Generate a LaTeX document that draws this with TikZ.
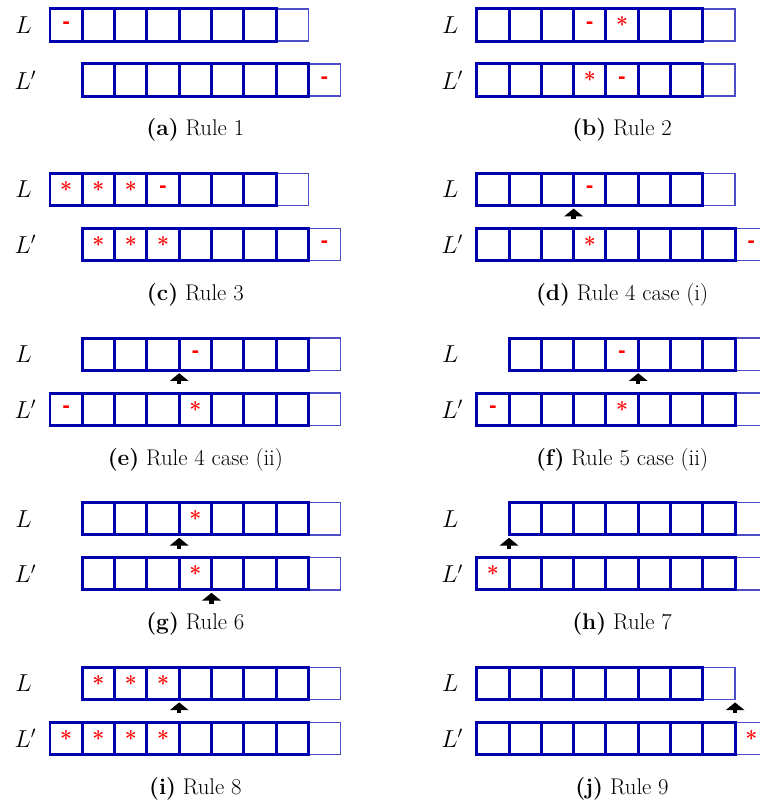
\documentclass[tikz,border=0pt]{standalone}
\usepackage{fontspec}
\newfontfamily\minusfont{DejaVu Sans}
\usetikzlibrary{arrows.meta,calc}
\definecolor{cellcol}{RGB}{0,0,175}
\definecolor{symcol}{RGB}{255,0,0}

% one list: name, left x, centre y, number of full cells (the tail cell comes after them)
\newcommand{\cellrow}[4]{%
  \node[tailcell] (#1-#4) at (#2+#4+0.5,#3) {};
  \pgfmathtruncatemacro{\lastcell}{#4-1}
  \foreach \i in {0,...,\lastcell}
    \node[cell] (#1-\i) at (#2+\i+0.5,#3) {};
}

\begin{document}
\begin{tikzpicture}[
  x=0.8cm, y=0.8cm,
  cell/.style={draw=cellcol, line width=2.1pt, minimum size=0.8cm,
               inner sep=0pt, outer sep=0pt},
  tailcell/.style={cell, draw=cellcol!70, line width=1pt},
  minussym/.style={text=symcol, font=\fontsize{13}{16}\selectfont\minusfont\bfseries,
                   inner sep=0pt},
  starsym/.style={text=symcol, font=\fontsize{15}{18}\selectfont\bfseries,
                  inner sep=0pt},
  lbl/.style={font=\LARGE},
  captext/.style={font=\fontsize{16}{19}\selectfont},
  uparr/.style={-{Triangle[width=13pt,length=5.5pt]}, line width=3pt,
                shorten >=2pt}
]
\useasboundingbox (0,0) rectangle (23.529,-24.892);
\clip (0,0) rectangle (23.529,-24.892);

%% (a) Rule 1
\node[lbl] (aLlab)  at (0.728,-0.774) {$L$};
\node[lbl] (aLplab) at (0.790,-2.477) {$L'$};
\cellrow{aL}{1.548}{-0.774}{7}
\cellrow{aLp}{2.548}{-2.477}{7}
\node[minussym] at (aL-0) {-};
\node[minussym] at (aLp-7) {-};
\node[captext] (capa) at (6.048,-4.034) {\textbf{(a)} Rule 1};

%% (b) Rule 2
\node[lbl] (bLlab)  at (13.939,-0.774) {$L$};
\node[lbl] (bLplab) at (14.001,-2.477) {$L'$};
\cellrow{bL}{14.759}{-0.774}{7}
\cellrow{bLp}{14.759}{-2.477}{7}
\node[minussym] at (bL-3) {-};
\node[starsym]  at (bL-4) {*};
\node[starsym]  at (bLp-3) {*};
\node[minussym] at (bLp-4) {-};
\node[captext] (capb) at (19.259,-4.034) {\textbf{(b)} Rule 2};

%% (c) Rule 3
\node[lbl] (cLlab)  at (0.728,-5.870) {$L$};
\node[lbl] (cLplab) at (0.790,-7.573) {$L'$};
\cellrow{cL}{1.548}{-5.870}{7}
\cellrow{cLp}{2.548}{-7.573}{7}
\foreach \i in {0,1,2} {
  \node[starsym] at (cL-\i) {*};
  \node[starsym] at (cLp-\i) {*};
}
\node[minussym] at (cL-3) {-};
\node[minussym] at (cLp-7) {-};
\node[captext] (capc) at (6.048,-9.130) {\textbf{(c)} Rule 3};

%% (d) Rule 4 case (i)
\node[lbl] (dLlab)  at (13.939,-5.870) {$L$};
\node[lbl] (dLplab) at (14.001,-7.573) {$L'$};
\cellrow{dL}{14.759}{-5.870}{7}
\cellrow{dLp}{14.759}{-7.573}{8}
\node[minussym] at (dL-3) {-};
\node[starsym]  at (dLp-3) {*};
\node[minussym] at (dLp-8) {-};
\coordinate (dfoot) at ($(dL-3.south west)+(0,-0.42)$);
\draw[uparr] (dfoot) -- (dL-3.south west);
\node[captext] (capd) at (19.259,-9.130) {\textbf{(d)} Rule 4 case (i)};

%% (e) Rule 4 case (ii)
\node[lbl] (eLlab)  at (0.728,-10.966) {$L$};
\node[lbl] (eLplab) at (0.790,-12.669) {$L'$};
\cellrow{eL}{2.548}{-10.966}{7}
\cellrow{eLp}{1.548}{-12.669}{8}
\node[minussym] at (eL-3) {-};
\node[minussym] at (eLp-0) {-};
\node[starsym]  at (eLp-4) {*};
\coordinate (efoot) at ($(eL-3.south west)+(0,-0.42)$);
\draw[uparr] (efoot) -- (eL-3.south west);
\node[captext] (cape) at (6.048,-14.226) {\textbf{(e)} Rule 4 case (ii)};

%% (f) Rule 5 case (ii)
\node[lbl] (fLlab)  at (13.939,-10.966) {$L$};
\node[lbl] (fLplab) at (14.001,-12.669) {$L'$};
\cellrow{fL}{15.759}{-10.966}{7}
\cellrow{fLp}{14.759}{-12.669}{8}
\node[minussym] at (fL-3) {-};
\node[minussym] at (fLp-0) {-};
\node[starsym]  at (fLp-4) {*};
\coordinate (ffoot) at ($(fL-3.south east)+(0,-0.42)$);
\draw[uparr] (ffoot) -- (fL-3.south east);
\node[captext] (capf) at (19.259,-14.226) {\textbf{(f)} Rule 5 case (ii)};

%% (g) Rule 6
\node[lbl] (gLlab)  at (0.728,-16.062) {$L$};
\node[lbl] (gLplab) at (0.790,-17.765) {$L'$};
\cellrow{gL}{2.548}{-16.062}{7}
\cellrow{gLp}{2.548}{-17.765}{7}
\node[starsym] at (gL-3) {*};
\node[starsym] at (gLp-3) {*};
\coordinate (gfoot)  at ($(gL-3.south west)+(0,-0.42)$);
\coordinate (gpfoot) at ($(gLp-3.south east)+(0,-0.42)$);
\draw[uparr] (gfoot) -- (gL-3.south west);
\draw[uparr] (gpfoot) -- (gLp-3.south east);
\node[captext] (capg) at (6.048,-19.322) {\textbf{(g)} Rule 6};

%% (h) Rule 7
\node[lbl] (hLlab)  at (13.939,-16.062) {$L$};
\node[lbl] (hLplab) at (14.001,-17.765) {$L'$};
\cellrow{hL}{15.759}{-16.062}{7}
\cellrow{hLp}{14.759}{-17.765}{8}
\node[starsym] at (hLp-0) {*};
\coordinate (hfoot) at ($(hL-0.south west)+(0,-0.42)$);
\draw[uparr] (hfoot) -- (hL-0.south west);
\node[captext] (caph) at (19.259,-19.322) {\textbf{(h)} Rule 7};

%% (i) Rule 8
\node[lbl] (iLlab)  at (0.728,-21.158) {$L$};
\node[lbl] (iLplab) at (0.790,-22.861) {$L'$};
\cellrow{iL}{2.548}{-21.158}{7}
\cellrow{iLp}{1.548}{-22.861}{8}
\foreach \i in {0,1,2}
  \node[starsym] at (iL-\i) {*};
\foreach \i in {0,...,3}
  \node[starsym] at (iLp-\i) {*};
\coordinate (ifoot) at ($(iL-3.south west)+(0,-0.42)$);
\draw[uparr] (ifoot) -- (iL-3.south west);
\node[captext] (capi) at (6.048,-24.418) {\textbf{(i)} Rule 8};

%% (j) Rule 9
\node[lbl] (jLlab)  at (13.939,-21.158) {$L$};
\node[lbl] (jLplab) at (14.001,-22.861) {$L'$};
\cellrow{jL}{14.759}{-21.158}{7}
\cellrow{jLp}{14.759}{-22.861}{8}
\node[starsym] at (jLp-8) {*};
\coordinate (jfoot) at ($(jL-7.south east)+(0,-0.42)$);
\draw[uparr] (jfoot) -- (jL-7.south east);
\node[captext] (capj) at (19.259,-24.418) {\textbf{(j)} Rule 9};

\end{tikzpicture}
\end{document}
